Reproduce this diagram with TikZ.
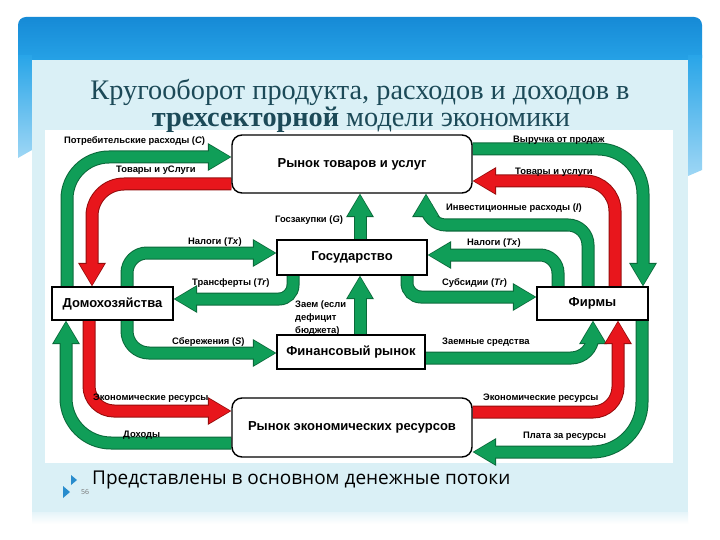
\documentclass[tikz,border=0pt]{standalone}
\usepackage{fontspec}
\setmainfont{Liberation Sans}
\newfontfamily\titlefont{Liberation Serif}
\newfontfamily\notefont{Open Sans}
\usetikzlibrary{arrows.meta,calc}
\definecolor{gfill}{RGB}{16,158,88}
\definecolor{gline}{RGB}{10,105,58}
\definecolor{rfill}{RGB}{232,22,28}
\definecolor{rline}{RGB}{150,12,12}
\definecolor{panel}{RGB}{218,240,246}
\definecolor{blueA}{RGB}{22,138,214}
\definecolor{blueB}{RGB}{40,165,232}
\definecolor{titlec}{RGB}{28,74,88}
\definecolor{bulletc}{RGB}{40,140,205}
\pgfdeclarelayer{bg}
\pgfdeclarelayer{flow}
\pgfsetlayers{bg,flow,main}
\tikzset{
  box/.style={draw=black, line width=1.4pt, fill=white, inner sep=0pt,
    font=\bfseries\fontsize{13}{15}\selectfont},
  lbl/.style={inner sep=0pt, anchor=west, font=\bfseries\fontsize{9.4}{13}\selectfont},
  gflow/.style={draw=gfill, line width=11pt,
    -{Triangle[length=21pt,width=24.5pt,line width=0pt]}, shorten >=1.3pt,
    preaction={draw=gline, line width=13pt,
      -{Triangle[length=23.5pt,width=28pt,line width=0pt]}, shorten >=0pt}},
  rflow/.style={draw=rfill, line width=11pt,
    -{Triangle[length=21pt,width=24.5pt,line width=0pt]}, shorten >=1.3pt,
    preaction={draw=rline, line width=13pt,
      -{Triangle[length=23.5pt,width=28pt,line width=0pt]}, shorten >=0pt}},
}
\begin{document}
\begin{tikzpicture}[x=1pt,y=-1pt]
\useasboundingbox (0,0) rectangle (720,540);
\begin{pgfonlayer}{bg}
  \fill[white] (0,0) rectangle (720,540);
  \shade[top color=blueA, bottom color=blueB, rounded corners=8pt] (18,17) rectangle (702,66);
  \shade[top color=blueB, bottom color=blueB!45!white] (18,55) -- (32,55) -- (32,150) -- (18,158) -- cycle;
  \shade[top color=blueB, bottom color=blueB!45!white] (688,55) -- (702,55) -- (702,170) -- (688,176) -- cycle;
  \fill[panel] (32,60) rectangle (688,512);
  \shade[top color=panel!70!white, bottom color=white] (32,512) rectangle (688,524);
  \fill[white] (45,130) rectangle (673,463);
\end{pgfonlayer}

% title
\node[anchor=base, text=titlec, inner sep=0pt, font=\titlefont\fontsize{28.3}{30}\selectfont] (t1) at (360,100)
  {Кругооборот продукта, расходов и доходов в};
\node[anchor=base, text=titlec, inner sep=0pt, font=\titlefont\fontsize{28.3}{30}\selectfont] (t2) at (361,127)
  {\textbf{трехсекторной} модели экономики};

% boxes
\node[box, rounded corners=10pt, minimum width=240pt, minimum height=58pt] (mkt) at (352,164) {Рынок товаров и услуг};
\node[box, minimum width=150pt, minimum height=35pt] (gov) at (352,257.5) {Государство};
\node[box, minimum width=148pt, minimum height=34pt] (fin) at (351,352) {Финансовый рынок};
\node[box, minimum width=121pt, minimum height=33pt] (hh) at (112.5,303.5) {Домохозяйства};
\node[box, minimum width=111pt, minimum height=33pt] (firm) at (592.5,303.5) {Фирмы};
\node[box, rounded corners=10pt, minimum width=240pt, minimum height=59pt] (res) at (352,427.5) {Рынок экономических ресурсов};

% flows
\begin{pgfonlayer}{flow}
  % left side
  \draw[gflow, rounded corners=42pt] (67,0 |- hh.north) -- (67,157) -- (mkt.west |- 0,157);
  \draw[rflow, rounded corners=32pt] (mkt.west |- 0,184) -- (92,184) -- (92,0 |- hh.north);
  \draw[gflow, rounded corners=20pt] (127,0 |- hh.north) -- (127,253) -- (gov.west |- 0,253);
  \draw[gflow, rounded corners=14pt] (293,0 |- gov.south) -- (293,299) -- (hh.east |- 0,299);
  \draw[gflow, rounded corners=22pt] (127,0 |- hh.south) -- (127,353) -- (fin.west |- 0,353);
  \draw[gflow, rounded corners=45pt] (res.west |- 0,443) -- (66,443) -- (66,0 |- hh.south);
  \draw[rflow, rounded corners=25pt] (89,0 |- hh.south) -- (89,411) -- (res.west |- 0,411);
  % centre
  \draw[gflow] (360,0 |- gov.north) -- (360,0 |- mkt.south);
  \draw[gflow] (360,0 |- fin.north) -- (360,0 |- gov.south);
  % right side
  \draw[gflow, rounded corners=45pt] (mkt.east |- 0,149) -- (643,149) -- (643,0 |- firm.north);
  \draw[rflow, rounded corners=30pt] (615,0 |- firm.north) -- (615,181) -- (mkt.east |- 0,181);
  \draw[gflow, rounded corners=20pt] (588,0 |- firm.north) -- (588,225) -- (426,225) -- (426,0 |- mkt.south);
  \draw[gflow, rounded corners=18pt] (558,0 |- firm.north) -- (558,255) -- (gov.east |- 0,255);
  \draw[gflow, rounded corners=14pt] (407,0 |- gov.south) -- (407,297) -- (firm.west |- 0,297);
  \draw[gflow, rounded corners=22pt] (fin.east |- 0,358) -- (593,358) -- (593,0 |- firm.south);
  \draw[rflow, rounded corners=25pt] (res.east |- 0,412) -- (618,412) -- (618,0 |- firm.south);
  \draw[gflow, rounded corners=50pt] (642,0 |- firm.south) -- (642,452) -- (res.east |- 0,452);
\end{pgfonlayer}

% labels
\node[lbl] (l1) at (64,141) {Потребительские расходы (\textit{C})};
\node[lbl] (l2) at (116,170) {Товары и уСлуги};
\node[lbl] (l3) at (188,242) {Налоги (\textit{Tx})};
\node[lbl] (l4) at (192,283) {Трансферты (\textit{Tr})};
\node[lbl] (l5) at (172,342) {Сбережения (\textit{S})};
\node[lbl] (l6) at (93,398) {Экономические ресурсы};
\node[lbl] (l7) at (123,435) {Доходы};
\node[lbl] (l8) at (275,220) {Госзакупки (\textit{G})};
\node[lbl, align=left] (l9) at (295,318) {Заем (если\\дефицит\\бюджета)};
\node[lbl] (l10) at (513,140) {Выручка от продаж};
\node[lbl] (l11) at (515,172) {Товары и услуги};
\node[lbl] (l12) at (446,208) {Инвестиционные расходы (\textit{I})};
\node[lbl] (l13) at (467,243) {Налоги (\textit{Tx})};
\node[lbl] (l14) at (442,283) {Субсидии (\textit{Tr})};
\node[lbl] (l15) at (442,342) {Заемные средства};
\node[lbl] (l16) at (483,398) {Экономические ресурсы};
\node[lbl] (l17) at (523,436) {Плата за ресурсы};

% footer
\fill[bulletc] (71,475) -- (77,480) -- (71,485) -- cycle;
\node[anchor=west, inner sep=0pt, font=\notefont\fontsize{19}{21}\selectfont] (note) at (92,480)
  {Представлены в основном денежные потоки};
\fill[bulletc] (63,486) -- (70,492) -- (63,498) -- cycle;
\node[anchor=west, inner sep=0pt, text=black!55, font=\notefont\fontsize{7}{8}\selectfont] (pnum) at (81,492) {56};
\end{tikzpicture}
\end{document}
